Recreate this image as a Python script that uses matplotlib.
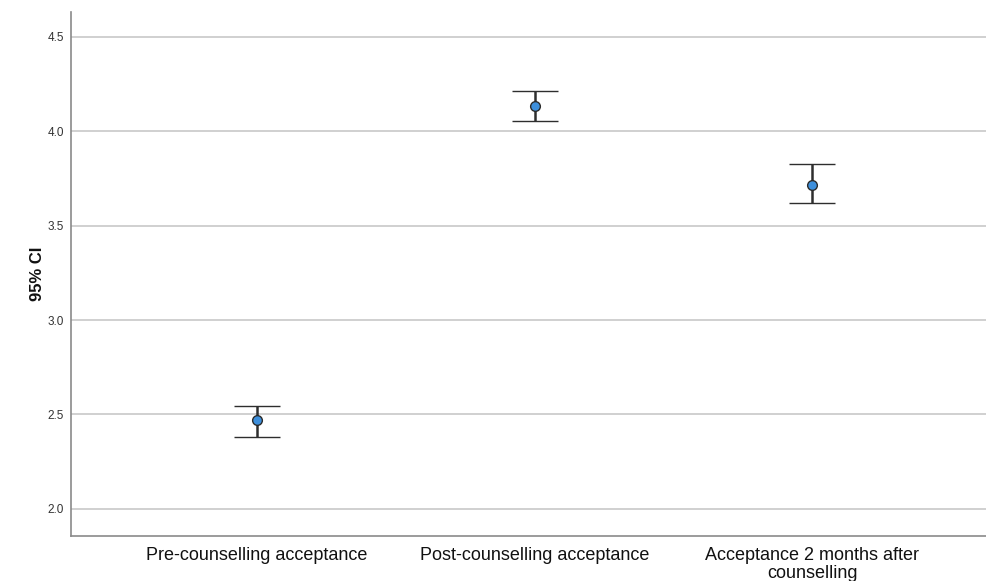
import matplotlib
matplotlib.use("Agg")
import matplotlib.pyplot as plt

# Group means with 95% confidence interval bounds
categories = ["Pre-counselling acceptance",
              "Post-counselling acceptance",
              "Acceptance 2 months after\ncounselling"]
means = [2.468, 4.133, 3.717]
ci_lower = [2.381, 4.055, 3.619]
ci_upper = [2.547, 4.213, 3.825]
yticks = [2.0, 2.5, 3.0, 3.5, 4.0, 4.5]
ytick_labels = ["2.0", "2.5", "3.0", "3.5", "4.0", "4.5"]

plt.rcParams["font.family"] = ["Liberation Sans", "DejaVu Sans"]

fig = plt.figure(figsize=(9.87, 5.81), dpi=100)
ax = fig.add_axes([0.0719, 0.0783, 0.9281, 0.9007])

x = list(range(len(categories)))
err_low = [m - lo for m, lo in zip(means, ci_lower)]
err_high = [hi - m for m, hi in zip(means, ci_upper)]

ax.set_axisbelow(True)
ax.yaxis.grid(True, color="#c8c8c8", linewidth=1.2)
ax.xaxis.grid(False)

ax.errorbar(x, means, yerr=[err_low, err_high], fmt="o",
            color="#2e2e2e", ecolor="#2e2e2e", elinewidth=1.8,
            capsize=16.5, capthick=2.0,
            markersize=7, markerfacecolor="#3d8fdc",
            markeredgecolor="#2b2b2b", markeredgewidth=1.0, zorder=3)

ax.set_xlim(-0.67, 2.63)
ax.set_ylim(1.859, 4.63)
ax.set_xticks(x)
ax.set_xticklabels(categories, fontsize=13, color="#111111",
                   linespacing=1.08)
ax.set_yticks(yticks)
ax.set_yticklabels(ytick_labels, fontsize=8.5, color="#333333")
ax.tick_params(axis="both", length=0)
ax.tick_params(axis="y", pad=5)
ax.tick_params(axis="x", pad=8)

for side in ("top", "right"):
    ax.spines[side].set_visible(False)
for side in ("left", "bottom"):
    ax.spines[side].set_color("#8a8a8a")
    ax.spines[side].set_linewidth(1.2)

ax.set_ylabel("95% CI", fontsize=12, fontweight="bold", color="#111111",
              labelpad=2)

fig.savefig("out.png", dpi=100, facecolor="white")
